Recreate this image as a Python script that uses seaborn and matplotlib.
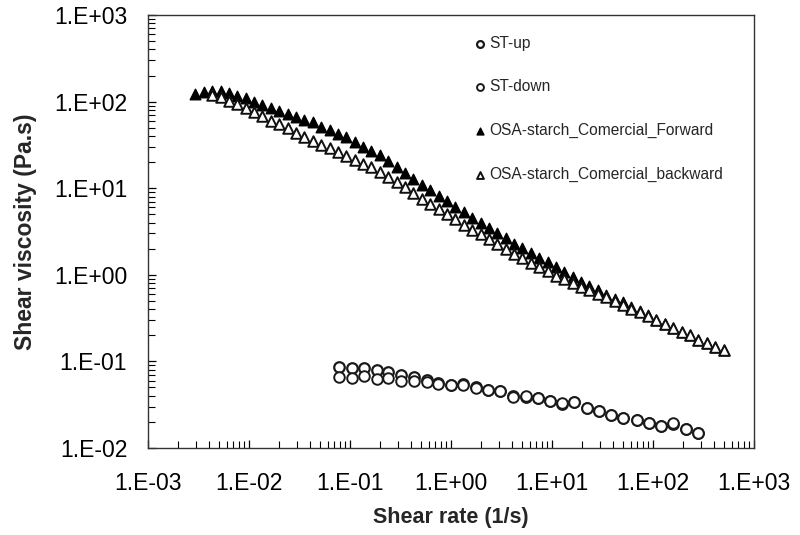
import matplotlib
matplotlib.use("Agg")
import matplotlib.pyplot as plt
import matplotlib.ticker as mticker
import seaborn as sns
import pandas as pd

# Shear rate (1/s) for the OSA-starch sweeps
osa_rate = [0.00295, 0.00357, 0.00433, 0.00524, 0.00634, 0.00767, 0.00929, 0.01125,
            0.0136, 0.0165, 0.0200, 0.0242, 0.0292, 0.0354, 0.0429, 0.0519,
            0.0628, 0.0760, 0.0920, 0.111, 0.135, 0.163, 0.198, 0.239,
            0.290, 0.351, 0.425, 0.514, 0.622, 0.753, 0.912, 1.10,
            1.34, 1.62, 1.96, 2.37, 2.87, 3.48, 4.21, 5.09,
            6.17, 7.46, 9.04, 10.9, 13.2, 16.0, 19.4, 23.5,
            28.4, 34.4, 41.7, 50.5, 61.1, 74.0, 89.5, 108,
            131, 159, 192, 233, 282, 341, 413, 500]

# Shear viscosity (Pa.s), forward sweep
osa_forward = [123, 129, 132, 132, 126, 117, 110, 100, 91.2, 85.1,
               77.6, 72.4, 66.1, 61.7, 57.5, 51.3, 46.8, 42.7, 38.9, 33.9,
               30.2, 26.9, 24.0, 20.4, 17.8, 15.1, 12.9, 11.0, 9.55, 8.13,
               7.08, 6.03, 5.25, 4.57, 3.98, 3.47, 3.02, 2.63, 2.29, 2.04,
               1.78, 1.58, 1.41, 1.23, 1.07, 0.933, 0.832, 0.741, 0.661, 0.589,
               0.525, 0.479, 0.427, 0.380, 0.339, 0.302, 0.269, 0.245, 0.219, 0.200,
               0.178, 0.162, 0.148, 0.135]

# Shear viscosity (Pa.s), backward sweep (starts at the third rate)
osa_backward = [120, 112, 102, 93.3, 85.1, 75.9, 67.6, 60.3, 55.0, 49.0,
                43.7, 38.9, 35.5, 31.6, 28.8, 26.3, 23.4, 21.4, 19.1, 17.4,
                15.5, 13.5, 11.7, 10.2, 8.91, 7.59, 6.61, 5.75, 5.01, 4.37,
                3.80, 3.31, 2.95, 2.57, 2.24, 2.00, 1.74, 1.55, 1.38, 1.23,
                1.10, 0.977, 0.891, 0.794, 0.724, 0.661, 0.603, 0.550, 0.501, 0.447,
                0.407, 0.372, 0.331, 0.302, 0.269, 0.245, 0.219, 0.200, 0.178, 0.162,
                0.148, 0.135]

# Shear rate (1/s) for the ST sweeps
st_rate = [0.0783, 0.105, 0.139, 0.184, 0.239, 0.320, 0.433, 0.574, 0.748, 1.00,
           1.32, 1.76, 2.31, 3.05, 4.08, 5.49, 7.22, 9.55, 12.6, 16.6,
           22.0, 29.0, 38.4, 50.8, 68.9, 91.2, 119, 159, 211, 277]

st_up = [0.0859, 0.0843, 0.0843, 0.0806, 0.0752, 0.0700, 0.0658, 0.0618, 0.0560, 0.0540,
         0.0545, 0.0500, 0.0470, 0.0450, 0.0400, 0.0392, 0.0380, 0.0352, 0.0325, 0.0340,
         0.0290, 0.0265, 0.0243, 0.0220, 0.0212, 0.0196, 0.0178, 0.0190, 0.0167, 0.0148]

st_down = [0.0658, 0.0640, 0.0687, 0.0630, 0.0640, 0.0601, 0.0601, 0.0575, 0.0551, 0.0536,
           0.0541, 0.0499, 0.0473, 0.0453, 0.0393, 0.0396, 0.0379, 0.0353, 0.0329, 0.0338,
           0.0288, 0.0266, 0.0241, 0.0221, 0.0211, 0.0195, 0.0178, 0.0195, 0.0166, 0.0148]

x_ticks = [1e-3, 1e-2, 1e-1, 1e0, 1e1, 1e2, 1e3]
x_tick_labels = ["1.E-03", "1.E-02", "1.E-01", "1.E+00", "1.E+01", "1.E+02", "1.E+03"]
y_ticks = [1e-2, 1e-1, 1e0, 1e1, 1e2, 1e3]
y_tick_labels = ["1.E-02", "1.E-01", "1.E+00", "1.E+01", "1.E+02", "1.E+03"]

sns.set_style("ticks")
plt.rcParams["font.family"] = ["Liberation Sans", "DejaVu Sans"]

fig = plt.figure(figsize=(8.0, 5.35), dpi=100)
ax = fig.add_axes([0.185, 0.1626, 0.7575, 0.8094])

st_up_df = pd.DataFrame({"rate": st_rate, "visc": st_up})
st_down_df = pd.DataFrame({"rate": st_rate, "visc": st_down})
fwd_df = pd.DataFrame({"rate": osa_rate, "visc": osa_forward})
bwd_df = pd.DataFrame({"rate": osa_rate[2:], "visc": osa_backward})

ms = 7.6
sns.scatterplot(data=st_up_df, x="rate", y="visc", ax=ax, marker="o", s=ms**2,
                facecolor="white", edgecolor="#1a1a1a", linewidth=1.6, label="ST-up", zorder=3)
sns.scatterplot(data=st_down_df, x="rate", y="visc", ax=ax, marker="o", s=ms**2,
                facecolor="white", edgecolor="#1a1a1a", linewidth=1.4, label="ST-down", zorder=3)
sns.scatterplot(data=fwd_df, x="rate", y="visc", ax=ax, marker="^", s=ms**2,
                facecolor="black", edgecolor="black", linewidth=1.0,
                label="OSA-starch_Comercial_Forward", zorder=4)
sns.scatterplot(data=bwd_df, x="rate", y="visc", ax=ax, marker="^", s=ms**2,
                facecolor="white", edgecolor="#111111", linewidth=1.4,
                label="OSA-starch_Comercial_backward", zorder=5)

ax.set_xscale("log")
ax.set_yscale("log")
ax.set_xlim(1e-3, 1e3)
ax.set_ylim(1e-2, 1e3)

ax.xaxis.set_major_locator(mticker.FixedLocator(x_ticks))
ax.yaxis.set_major_locator(mticker.FixedLocator(y_ticks))
ax.xaxis.set_minor_locator(mticker.LogLocator(base=10, subs=range(2, 10), numticks=20))
ax.yaxis.set_minor_locator(mticker.LogLocator(base=10, subs=range(2, 10), numticks=20))
ax.set_xticklabels(x_tick_labels)
ax.set_yticklabels(y_tick_labels)
ax.xaxis.set_minor_formatter(mticker.NullFormatter())
ax.yaxis.set_minor_formatter(mticker.NullFormatter())

ax.tick_params(axis="both", which="both", direction="in", colors="black",
               top=False, right=False)
ax.tick_params(axis="both", which="major", length=6, width=0.9, labelsize=16.5)
ax.tick_params(axis="both", which="minor", length=5, width=0.8)
ax.tick_params(axis="x", which="major", pad=17)
ax.tick_params(axis="y", which="major", pad=15)

for side in ["left", "bottom", "top", "right"]:
    ax.spines[side].set_visible(True)
    ax.spines[side].set_color("#333333")
    ax.spines[side].set_linewidth(1.0)

ax.set_xlabel("Shear rate (1/s)", fontsize=15.5, fontweight="bold", labelpad=9)
ax.set_ylabel("Shear viscosity (Pa.s)", fontsize=16.5, fontweight="bold", labelpad=12)

leg = ax.legend(loc="upper left", bbox_to_anchor=(0.584, 0.948), bbox_transform=fig.transFigure,
                frameon=False, fontsize=11.2, labelspacing=1.85, handlelength=0.6,
                handletextpad=0.3, borderpad=0, markerscale=0.65)

fig.savefig("out.png", dpi=100, facecolor="white")
